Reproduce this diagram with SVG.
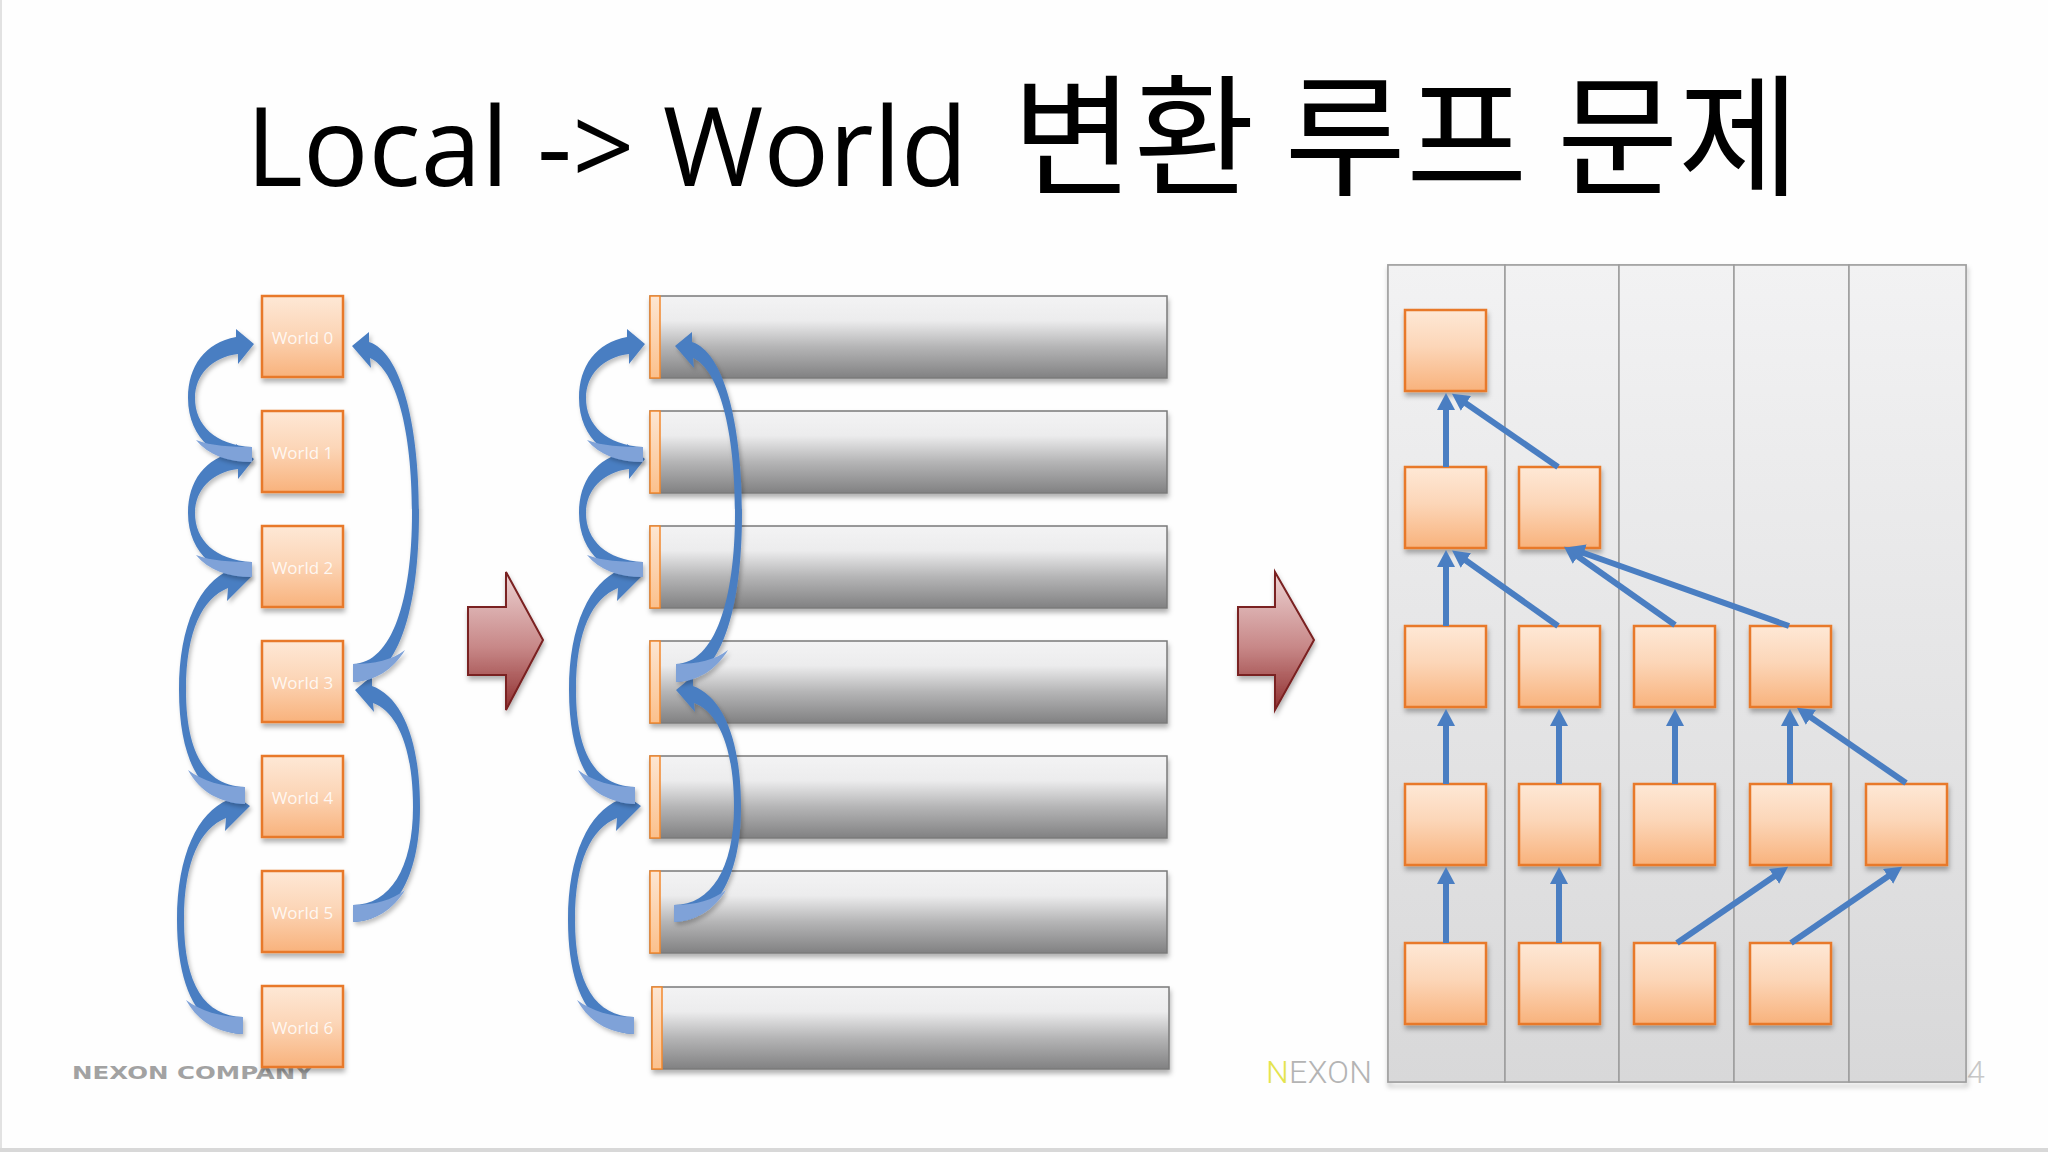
<svg xmlns="http://www.w3.org/2000/svg" xmlns:xlink="http://www.w3.org/1999/xlink" width="2048" height="1152" viewBox="0 0 2048 1152">
<defs>
<style>
.box{fill:url(#gBox);stroke:#e8792a;stroke-width:2.5;filter:url(#sh)}
.wt{font-family:"Open Sans","Liberation Sans",sans-serif;font-size:17px;fill:#ffffff;fill-opacity:.85;text-anchor:middle}
.bar{fill:url(#gBar);stroke:#7a7a7a;stroke-width:1.5;filter:url(#sh)}
.strip{fill:url(#gStrip);stroke:#f2882e;stroke-width:1.5}
.col{fill:url(#gCol);stroke:#9c9c9c;stroke-width:1.5}
.red{fill:url(#gRed);stroke:#7a2020;stroke-width:2;filter:url(#sh)}
.blue{fill:#4a7ec2}
.under{fill:#7fa2d8}
.carr{filter:url(#shA)}
.ln{stroke:#4a7ec2;stroke-width:6;fill:none;marker-end:url(#ah)}
</style>
<linearGradient id="gBox" x1="0" y1="0" x2="0" y2="1"><stop offset="0" stop-color="#fee8d6"/><stop offset=".45" stop-color="#fcd6b8"/><stop offset="1" stop-color="#f8b27c"/></linearGradient>
<linearGradient id="gBar" x1="0" y1="0" x2="0" y2="1"><stop offset="0" stop-color="#f3f3f4"/><stop offset=".3" stop-color="#ececed"/><stop offset=".62" stop-color="#b5b5b6"/><stop offset="1" stop-color="#818182"/></linearGradient>
<linearGradient id="gStrip" x1="0" y1="0" x2="0" y2="1"><stop offset="0" stop-color="#fde6d2"/><stop offset="1" stop-color="#fbc08c"/></linearGradient>
<linearGradient id="gCol" x1="0" y1="0" x2="0" y2="1"><stop offset="0" stop-color="#f2f2f3"/><stop offset="1" stop-color="#d8d8d9"/></linearGradient>
<linearGradient id="gRed" x1="0" y1="0" x2="0" y2="1"><stop offset="0" stop-color="#edd3d3"/><stop offset=".55" stop-color="#c78787"/><stop offset="1" stop-color="#8f2f2f"/></linearGradient>
<filter id="sh" x="-10%" y="-10%" width="120%" height="130%"><feDropShadow dx="1" dy="4" stdDeviation="2.5" flood-color="#000" flood-opacity="0.3"/></filter>
<filter id="shA" x="-20%" y="-10%" width="140%" height="120%"><feDropShadow dx="2" dy="3" stdDeviation="2" flood-color="#000" flood-opacity="0.25"/></filter>
<marker id="ah" markerUnits="userSpaceOnUse" markerWidth="17" markerHeight="18" viewBox="0 0 17 18" refX="6" refY="9" orient="auto"><path d="M0,0 L17,9 L0,18 Z" fill="#4a7ec2"/></marker>
<g id="arA">
<path class="blue" d="M252,462 C220,462 188,440 188,398 C188,366 205,343 236,337 L236,329 L254,344 L238,364 L238,354 C212,357 195,375 195,398 C195,425 215,445 252,447 Z"/>
<path class="under" d="M252,447 L252,462 C228,462 208,455 196,440 C212,446 230,447 252,447 Z"/>
</g>
<g id="arC">
<path class="blue" d="M245,804 C205,803 179,765 179,690 C179,625 200,582 230,570 L231,561 L252,576 L227,601 L228,588 C203,598 186,630 186,690 C186,755 207,786 245,787 Z"/>
<path class="under" d="M245,787 L245,804 C220,803 200,792 188,770 C203,781 222,787 245,787 Z"/>
</g>
<g id="arE">
<path class="blue" d="M353,682 C398,681 419,610 419,513 C419,420 400,352 369,342 L369,332 L352,346 L371,368 L370,358 C396,370 412,430 412,513 C412,600 392,663 353,664 Z"/>
<path class="under" d="M353,664 L353,682 C375,681 393,670 405,650 C392,660 375,664 353,664 Z"/>
</g>
<g id="arF">
<path class="blue" d="M353,922 C393,921 420,880 420,807 C420,740 402,697 372,686 L372,676 L355,690 L374,712 L373,703 C398,712 413,750 413,807 C413,868 390,905 353,905 Z"/>
<path class="under" d="M353,905 L353,922 C375,921 393,910 405,890 C392,900 375,905 353,905 Z"/>
</g>
</defs>
<rect x="0" y="0" width="2048" height="1152" fill="#fefefe"/>
<line x1="1" y1="0" x2="1" y2="1152" stroke="#e2e2e2" stroke-width="2"/>
<line x1="0" y1="1150" x2="2048" y2="1150" stroke="#d8d8d8" stroke-width="4"/>

<g id="title">
<text y="186"><tspan x="246" font-family="Open Sans, Liberation Sans, sans-serif" font-size="109">Local -&gt; World</tspan><tspan x="1012" y="185" font-family="Noto Sans CJK KR, sans-serif" font-size="132">변환 루프 문제</tspan></text>
</g>

<g id="watermarks">
<text x="72" y="1079" font-family="DejaVu Sans, sans-serif" font-weight="bold" font-size="17" fill="#a2a2a2" textLength="241" lengthAdjust="spacingAndGlyphs">NEXON COMPANY</text>
<text x="1266" y="1083" font-family="Roboto, sans-serif" font-weight="300" font-size="32" fill="#b4b4b4" textLength="106" lengthAdjust="spacing"><tspan fill="#e4e44e">N</tspan>EXON</text>
<text x="1967" y="1083" font-family="Roboto, sans-serif" font-weight="300" font-size="32" fill="#c8c8c8">4</text>
</g>

<!-- left panel: World boxes -->
<g id="world0"><rect class="box" x="262" y="296" width="81" height="81"/><text class="wt" x="302.5" y="344">World 0</text></g>
<g id="world1"><rect class="box" x="262" y="411" width="81" height="81"/><text class="wt" x="302.5" y="459">World 1</text></g>
<g id="world2"><rect class="box" x="262" y="526" width="81" height="81"/><text class="wt" x="302.5" y="574">World 2</text></g>
<g id="world3"><rect class="box" x="262" y="641" width="81" height="81"/><text class="wt" x="302.5" y="689">World 3</text></g>
<g id="world4"><rect class="box" x="262" y="756" width="81" height="81"/><text class="wt" x="302.5" y="804">World 4</text></g>
<g id="world5"><rect class="box" x="262" y="871" width="81" height="81"/><text class="wt" x="302.5" y="919">World 5</text></g>
<g id="world6"><rect class="box" x="262" y="986" width="81" height="81"/><text class="wt" x="302.5" y="1034">World 6</text></g>

<!-- middle panel: bars -->
<g id="bar0"><rect class="bar" x="650" y="296" width="517" height="82"/><rect class="strip" x="650" y="296" width="10" height="82"/></g>
<g id="bar1"><rect class="bar" x="650" y="411" width="517" height="82"/><rect class="strip" x="650" y="411" width="10" height="82"/></g>
<g id="bar2"><rect class="bar" x="650" y="526" width="517" height="82"/><rect class="strip" x="650" y="526" width="10" height="82"/></g>
<g id="bar3"><rect class="bar" x="650" y="641" width="517" height="82"/><rect class="strip" x="650" y="641" width="10" height="82"/></g>
<g id="bar4"><rect class="bar" x="650" y="756" width="517" height="82"/><rect class="strip" x="650" y="756" width="10" height="82"/></g>
<g id="bar5"><rect class="bar" x="650" y="871" width="517" height="82"/><rect class="strip" x="650" y="871" width="10" height="82"/></g>
<g id="bar6"><rect class="bar" x="652" y="987" width="517" height="82"/><rect class="strip" x="652" y="987" width="10" height="82"/></g>

<!-- big red arrows -->
<g id="redArrow1"><path class="red" d="M468,607 L506,607 L506,572 L543,640 L506,710 L506,675 L468,675 Z"/></g>
<g id="redArrow2"><path class="red" d="M1238,607 L1275,607 L1275,572 L1314,640 L1275,710 L1275,675 L1238,675 Z"/></g>

<!-- right panel: columns -->
<g id="columns">
<rect x="1388" y="265" width="578" height="817" fill="none" stroke="#c4c4c4" stroke-width="2" filter="url(#sh)"/>
<rect class="col" x="1388" y="265" width="117" height="817"/>
<rect class="col" x="1505" y="265" width="114" height="817"/>
<rect class="col" x="1619" y="265" width="115" height="817"/>
<rect class="col" x="1734" y="265" width="115" height="817"/>
<rect class="col" x="1849" y="265" width="117" height="817"/>
</g>

<g id="n_r1c1"><rect class="box" x="1405" y="310" width="81" height="81"/></g>
<g id="n_r2c1"><rect class="box" x="1405" y="467" width="81" height="81"/></g>
<g id="n_r2c2"><rect class="box" x="1519" y="467" width="81" height="81"/></g>
<g id="n_r3c1"><rect class="box" x="1405" y="626" width="81" height="81"/></g>
<g id="n_r3c2"><rect class="box" x="1519" y="626" width="81" height="81"/></g>
<g id="n_r3c3"><rect class="box" x="1634" y="626" width="81" height="81"/></g>
<g id="n_r3c4"><rect class="box" x="1750" y="626" width="81" height="81"/></g>
<g id="n_r4c1"><rect class="box" x="1405" y="784" width="81" height="81"/></g>
<g id="n_r4c2"><rect class="box" x="1519" y="784" width="81" height="81"/></g>
<g id="n_r4c3"><rect class="box" x="1634" y="784" width="81" height="81"/></g>
<g id="n_r4c4"><rect class="box" x="1750" y="784" width="81" height="81"/></g>
<g id="n_r4c5"><rect class="box" x="1866" y="784" width="81" height="81"/></g>
<g id="n_r5c1"><rect class="box" x="1405" y="943" width="81" height="81"/></g>
<g id="n_r5c2"><rect class="box" x="1519" y="943" width="81" height="81"/></g>
<g id="n_r5c3"><rect class="box" x="1634" y="943" width="81" height="81"/></g>
<g id="n_r5c4"><rect class="box" x="1750" y="943" width="81" height="81"/></g>

<g id="connectors">
<!-- left panel curved arrows -->
<use class="carr" xlink:href="#arC" transform="translate(-2,230)"/>
<use class="carr" xlink:href="#arC"/>
<use class="carr" xlink:href="#arA" transform="translate(0,115)"/>
<use class="carr" xlink:href="#arA"/>
<use class="carr" xlink:href="#arF"/>
<use class="carr" xlink:href="#arE"/>
<!-- middle panel curved arrows -->
<use class="carr" xlink:href="#arC" transform="translate(389,230)"/>
<use class="carr" xlink:href="#arC" transform="translate(390,0)"/>
<use class="carr" xlink:href="#arA" transform="translate(391,115)"/>
<use class="carr" xlink:href="#arA" transform="translate(391,0)"/>
<use class="carr" xlink:href="#arF" transform="translate(321,0)"/>
<use class="carr" xlink:href="#arE" transform="translate(323,0)"/>
<!-- right panel tree arrows -->
<line class="ln" x1="1446" y1="467" x2="1446" y2="404"/>
<line class="ln" x1="1558" y1="467" x2="1461" y2="400"/>
<line class="ln" x1="1446" y1="626" x2="1446" y2="561"/>
<line class="ln" x1="1558" y1="626" x2="1461" y2="557"/>
<line class="ln" x1="1675" y1="625" x2="1573" y2="553"/>
<line class="ln" x1="1789" y1="626" x2="1578" y2="551"/>
<line class="ln" x1="1446" y1="784" x2="1446" y2="720"/>
<line class="ln" x1="1559" y1="784" x2="1559" y2="720"/>
<line class="ln" x1="1675" y1="784" x2="1675" y2="720"/>
<line class="ln" x1="1790" y1="784" x2="1790" y2="720"/>
<line class="ln" x1="1906" y1="783" x2="1806" y2="714"/>
<line class="ln" x1="1446" y1="943" x2="1446" y2="878"/>
<line class="ln" x1="1559" y1="943" x2="1559" y2="878"/>
<line class="ln" x1="1677" y1="943" x2="1779" y2="873"/>
<line class="ln" x1="1791" y1="943" x2="1893" y2="873"/>
</g>
</svg>
